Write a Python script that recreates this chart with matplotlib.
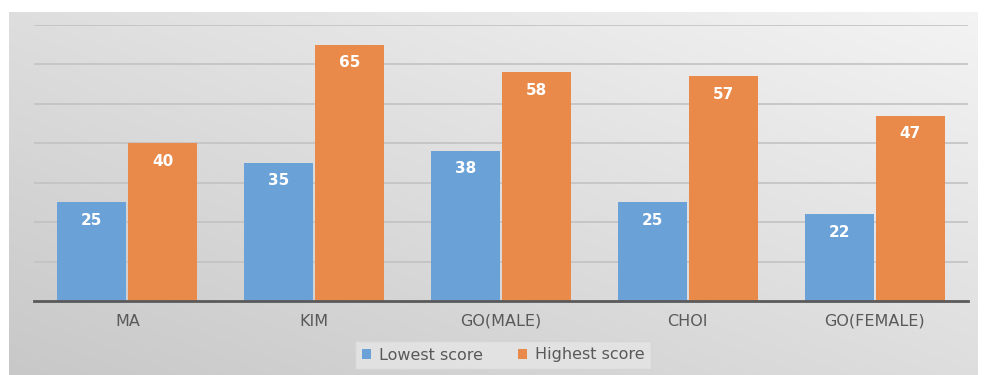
import numpy as np
import matplotlib
matplotlib.use("Agg")
import matplotlib.pyplot as plt

categories = ["MA", "KIM", "GO(MALE)", "CHOI", "GO(FEMALE)"]
lowest = [25, 35, 38, 25, 22]
highest = [40, 65, 58, 57, 47]
series_names = ["Lowest score", "Highest score"]

W, H = 986, 375
fig = plt.figure(figsize=(W / 100, H / 100), dpi=100)
fig.patch.set_facecolor("white")

# gradient background panel
bg = fig.add_axes([9 / W, 0, (978 - 9) / W, (375 - 12) / H])
yy, xx = np.mgrid[0:1:200j, 0:1:400j]
grad = 0.5 * (1 - xx) + 0.5 * yy  # darker bottom-left
img = 0.955 - 0.17 * grad
bg.imshow(np.dstack([img, img, img]), aspect="auto", origin="upper", extent=[0, 1, 0, 1])
bg.set_axis_off()

ax = fig.add_axes([34 / W, 1 - 301 / H, (968 - 34) / W, (301 - 25) / H])
ax.patch.set_alpha(0)
x = np.arange(len(categories))
bw = 0.37
c_blue = "#6aa2d8"
c_orange = "#e98a4b"
b1 = ax.bar(x - bw / 2 - 0.005, lowest, bw, color=c_blue, label=series_names[0], zorder=3)
b2 = ax.bar(x + bw / 2 + 0.005, highest, bw, color=c_orange, label=series_names[1], zorder=3)
for bars in (b1, b2):
    for r in bars:
        ax.text(r.get_x() + r.get_width() / 2, r.get_height() - 2.6, f"{int(r.get_height())}",
                ha="center", va="top", color="white", fontsize=11, fontweight="bold", zorder=4)

ax.set_xlim(-0.5, len(categories) - 0.5)
ax.set_ylim(0, 70)
ax.set_yticks(np.arange(10, 71, 10))
ax.yaxis.grid(True, color="#c2c2c2", lw=1.2, zorder=0)
ax.tick_params(axis="y", left=False, labelleft=False)
ax.tick_params(axis="x", length=0, pad=9, labelsize=11.5, labelcolor="#595959")
ax.set_xticks(x)
ax.set_xticklabels(categories)
for s in ("top", "right", "left"):
    ax.spines[s].set_visible(False)
ax.spines["bottom"].set_color("#5a5a5a")
ax.spines["bottom"].set_linewidth(2)
ax.spines["bottom"].set_zorder(5)

leg = fig.legend(handles=[b1, b2], labels=series_names, loc="center", bbox_to_anchor=(503 / W, 1 - 355 / H),
                 ncol=2, frameon=True, fontsize=11.5, handlelength=0.55, handleheight=0.55,
                 columnspacing=2.2, handletextpad=0.5, borderpad=0.4, borderaxespad=0,
                 fancybox=False)
leg.get_frame().set_facecolor("#e6e6e6")
leg.get_frame().set_edgecolor("#d4d4d4")
for t in leg.get_texts():
    t.set_color("#595959")

fig.savefig("out.png", dpi=100)
